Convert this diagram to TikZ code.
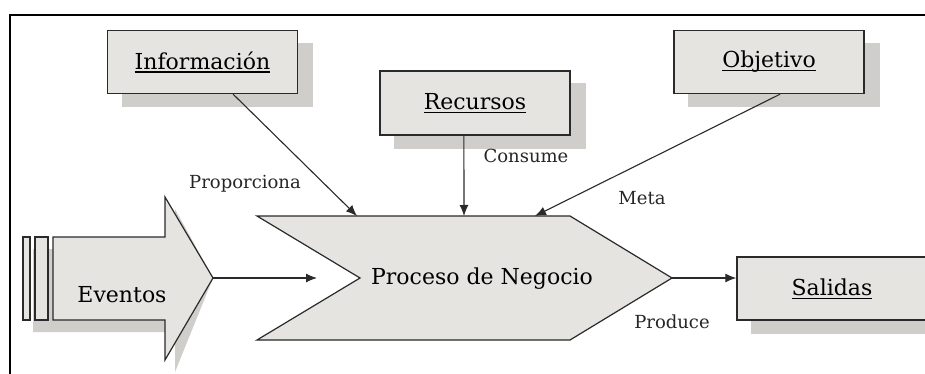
\documentclass[tikz,border=0pt]{standalone}
\usepackage{fontspec}
\setmainfont{DejaVu Serif}
\usetikzlibrary{arrows.meta,backgrounds,calc}
\definecolor{boxfill}{HTML}{E6E4E1}
\definecolor{shadowc}{HTML}{D0CECB}
\definecolor{edge}{HTML}{2A2A2A}
\newcommand\ulx[1]{\setbox0\hbox{#1}\rlap{\rule[-3.5pt]{\wd0}{1.1pt}}\box0}
\begin{document}
\begin{tikzpicture}[x=1pt,y=-1pt,
  box/.style={draw=edge, line width=1.4pt, fill=boxfill, minimum width=190pt,
    minimum height=63pt, inner sep=0pt, font=\fontsize{22}{25}\selectfont},
  lbl/.style={font=\fontsize{18}{21}\selectfont, inner sep=0pt, text=black!85},
  conn/.style={draw=edge, line width=1.1pt, -{Latex[length=11pt,width=9pt]}},
  shp/.style={draw=edge, line width=1.2pt, fill=boxfill, line join=miter},
  big/.style={font=\fontsize{22}{25}\selectfont, inner sep=0pt}
]
\useasboundingbox (0,0) rectangle (925,374);
\begin{scope}
\clip (0,0) rectangle (925,374);

% boxes
\node[box] (info) at (202.5,62) {\ulx{Información}};
\node[box, minimum height=64pt] (rec) at (475,103) {\ulx{Recursos}};
\node[box] (obj) at (769,62) {\ulx{Objetivo}};
\node[box] (sal) at (832,288.5) {\ulx{Salidas}};

% process chevron
\coordinate (p1) at (257,216);
\coordinate (p2) at (570,216);
\coordinate (p3) at (672,278);
\coordinate (p4) at (570,340);
\coordinate (p5) at (257,340);
\coordinate (p6) at (360,278);
\draw[shp] (p1) -- (p2) -- (p3) -- (p4) -- (p5) -- (p6) -- cycle;
\node[big] (proc) at (482,279) {Proceso de Negocio};

% eventos arrow
\coordinate (evtip) at (213,278);
\draw[shp] (23,237) rectangle (30,320);
\draw[shp] (35,237) rectangle (48,320);
\draw[shp] (53,237) -- (165,237) -- (165,197) -- (evtip) -- (165,360) -- (165,320) -- (53,320) -- cycle;
\node[big] (ev) at (122,295) {Eventos};

% arrow targets
\coordinate (t1) at (357,216);
\coordinate (t2) at (464,216);
\coordinate (t3) at (535,216);
\coordinate (t4) at (317,278);

\draw[conn] ($(info.south west)!0.66!(info.south east)$) -- (t1);
\draw[conn] ($(rec.south west)!0.442!(rec.south east)$) -- (t2);
\draw[conn] ($(obj.south west)!0.558!(obj.south east)$) -- (t3);
\draw[conn] (evtip) -- (t4);
\draw[conn] (p3) -- (sal.west |- p3);

% labels
\node[lbl] (l1) at (245,184) {Proporciona};
\node[lbl] (l2) at (526,156) {Consume};
\node[lbl] (l3) at (642,198) {Meta};
\node[lbl] (l4) at (672,322) {Produce};

% shadows & frame
\begin{scope}[on background layer]
\fill[white] (0,0) rectangle (925,374);
\foreach \n/\dx/\dy in {info/15/13, rec/15/13, obj/15/13, sal/15/13}{
  \fill[shadowc] ([shift={(\dx,\dy)}]\n.north west) rectangle ([shift={(\dx,\dy)}]\n.south east);
}
\fill[shadowc, shift={(8,12)}] (p1) -- (p2) -- (p3) -- (p4) -- (p5) -- (p6) -- cycle;
\fill[shadowc, shift={(10,12)}] (23,237) -- (165,237) -- (165,197) -- (evtip) -- (165,360) -- (165,320) -- (23,320) -- cycle;
\draw[line width=1.6pt] (10,390) -- (10,15) -- (940,15);
\end{scope}
\end{scope}
\end{tikzpicture}
\end{document}
